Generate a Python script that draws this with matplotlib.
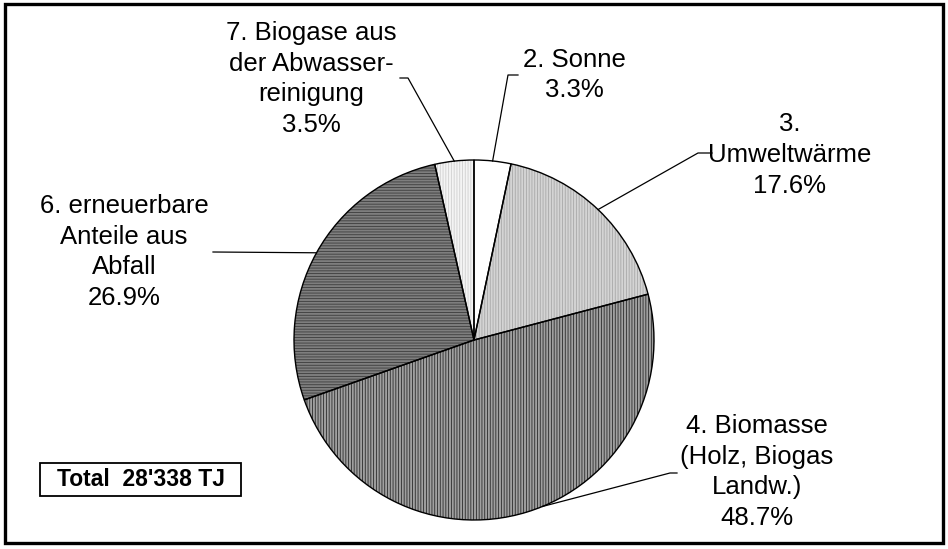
import numpy as np
import matplotlib
matplotlib.use("Agg")
from matplotlib import pyplot as plt
import matplotlib.patches as mpatches

plt.rcParams['font.family'] = ['Liberation Sans', 'DejaVu Sans']
plt.rcParams['hatch.linewidth'] = 0.6

# data
names = ["2. Sonne", "3.\nUmweltwärme", "4. Biomasse\n(Holz, Biogas\nLandw.)",
         "6. erneuerbare\nAnteile aus\nAbfall", "7. Biogase aus\nder Abwasser-\nreinigung"]
shares = [3.3, 17.6, 48.7, 26.9, 3.5]
total_text = "Total  28'338 TJ"

# styles (fill, hatch, hatch colour)
fills = ['#ffffff', '#d4d4d4', '#a0a0a0', '#7e7e7e', '#f4f4f4']
hatches = [None, '||||||', '||||||', '------', '||||||']
hatch_cols = ['#ffffff', '#a8a8a8', '#2a2a2a', '#3c3c3c', '#cfcfcf']

# label layout in pixels: text centre, elbow point, end of short stub,
# and where along the wedge arc the leader line starts (0..1)
lab_xy = [(574, 75), (790, 155), (757, 472), (124, 252), (311, 79)]
elbow = [(508, 75), (698, 153), (670, 473), (213, 252), (408, 78)]
stub = [(518, 75), (712, 153), (677, 473), (213, 252), (400, 78)]
anchor = [0.5, 0.5, 0.47, 0.5, 0.5]

W, H = 948, 549
fig = plt.figure(figsize=(W / 100, H / 100), dpi=100)
ax = fig.add_axes([0, 0, 1, 1])

cx, cy, R = 474, 340, 180
wedges, _ = ax.pie(shares, colors=fills, startangle=-90, counterclock=True,
                   center=(cx, cy), radius=R, wedgeprops=dict(edgecolor='none'))
ax.set_xlim(0, W)
ax.set_ylim(H, 0)
ax.set_aspect('equal')
ax.axis('off')

for w, h, hc in zip(wedges, hatches, hatch_cols):
    if h:
        ax.add_patch(mpatches.Wedge(w.center, w.r, w.theta1, w.theta2, fill=False,
                                    hatch=h, edgecolor=hc, linewidth=0, zorder=2))
    ax.add_patch(mpatches.Wedge(w.center, w.r, w.theta1, w.theta2, fill=False,
                                edgecolor='black', linewidth=1.0, zorder=3))

# labels with leader lines
for w, name, pct, (tx, ty), (ex, ey), (sx, sy), f in zip(wedges, names, shares, lab_xy,
                                                        elbow, stub, anchor):
    ang = np.deg2rad(w.theta1 + f * (w.theta2 - w.theta1))
    px = w.center[0] + w.r * np.cos(ang)
    py = w.center[1] + w.r * np.sin(ang)
    ax.plot([px, ex, sx], [py, ey, sy], color='black', lw=0.9, zorder=4)
    ax.text(tx, ty, f"{name}\n{pct:.1f}%", ha='center', va='center', fontsize=18.5,
            linespacing=1.36, zorder=5)

# total box
ax.add_patch(mpatches.Rectangle((40, 463), 201, 33, fill=False, edgecolor='black', lw=1.3))
ax.text(141, 480, total_text, ha='center', va='center', fontsize=16.5, fontweight='bold')

# outer frame
ax.add_patch(mpatches.Rectangle((5, 4), 938, 539, fill=False, edgecolor='black', lw=2.4,
                                clip_on=False))

plt.savefig("out.png", dpi=100)
